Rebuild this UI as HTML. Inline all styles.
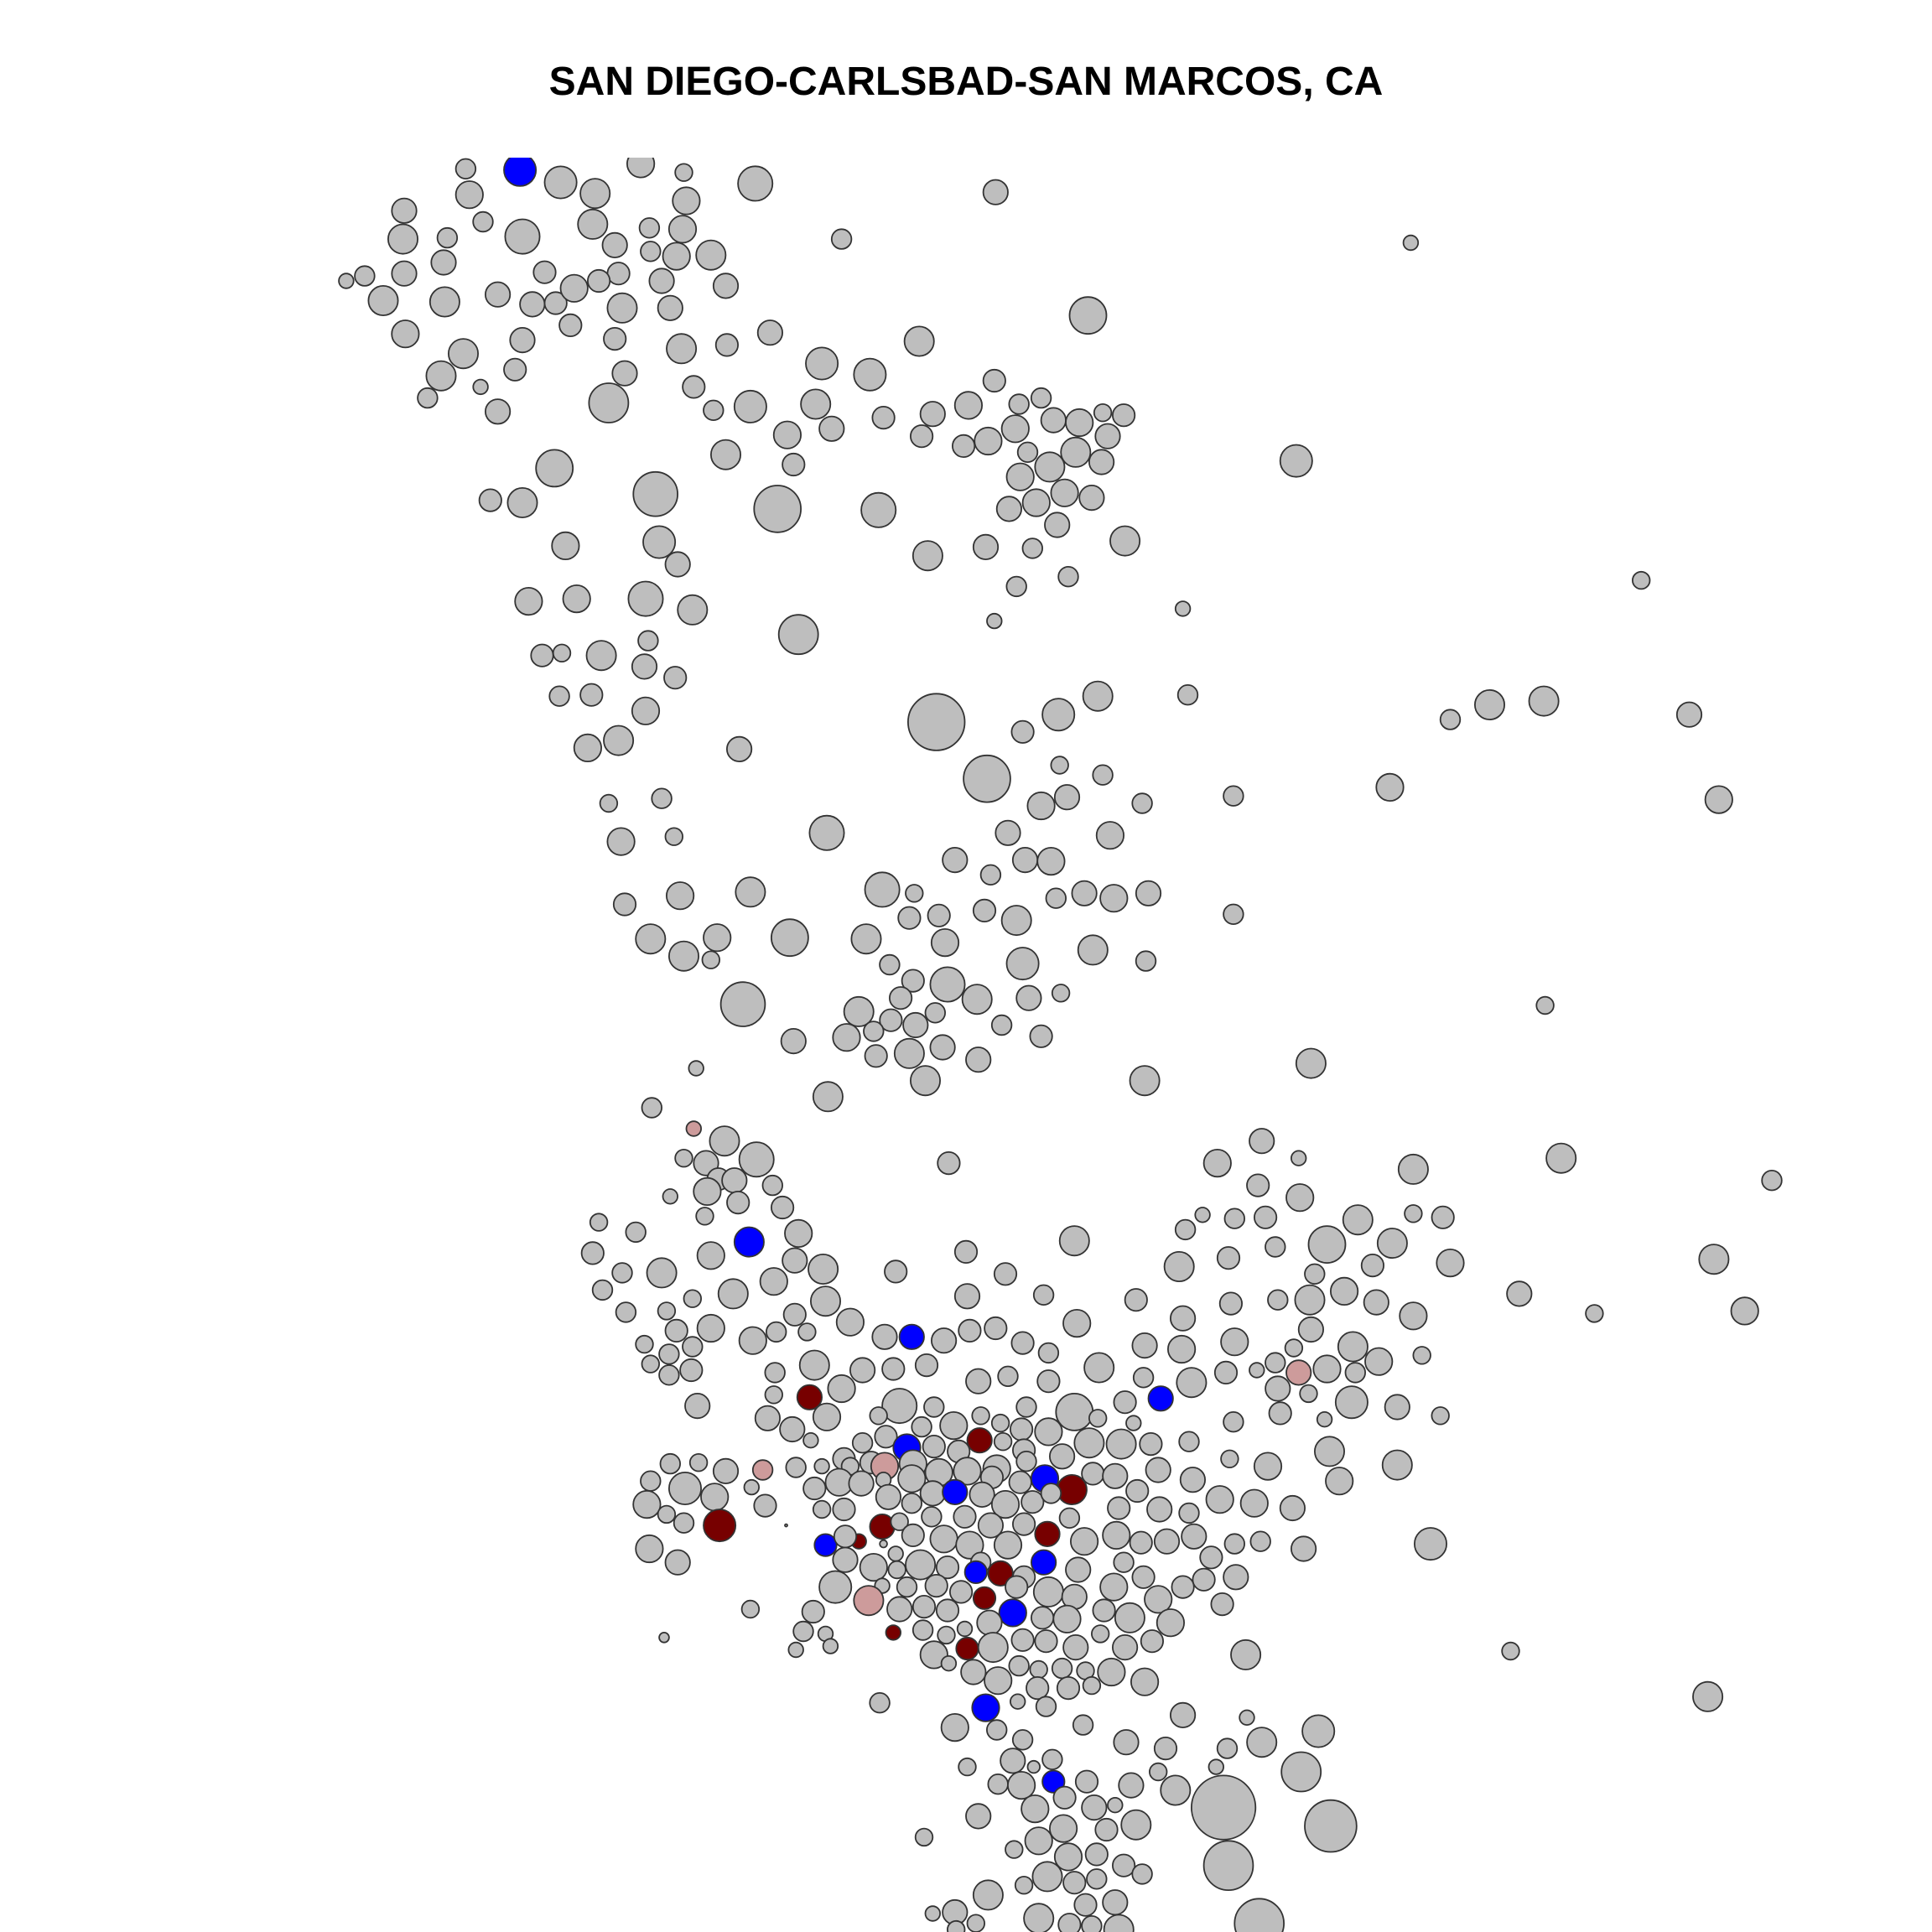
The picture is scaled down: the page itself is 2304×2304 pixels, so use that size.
<!DOCTYPE html>
<html><head><meta charset="utf-8"><style>
html,body{margin:0;padding:0;background:#fff}
svg{display:block}
</style></head><body>
<svg id="chart" width="2304" height="2304" viewBox="0 0 2304 2304" xmlns="http://www.w3.org/2000/svg">
<defs><clipPath id="plotclip"><rect x="0" y="188" width="2304" height="2116"/></clipPath></defs>
<rect width="2304" height="2304" fill="#fff"/>
<text x="1152" y="113" text-anchor="middle" font-family="'Liberation Sans', sans-serif" font-weight="bold" font-size="48" fill="#000">SAN DIEGO-CARLSBAD-SAN MARCOS, CA</text>
<g id="marks" clip-path="url(#plotclip)"></g>
</svg>
<script>
// data: [x, y, size, group]  (g=gray, b=blue, r=dark red, p=pink)
const points = [
[378,137,8],[422,138,13,'b'],[455,148,13],[520,133,11],[555,140,7],[613,149,14],[808,156,10],[381,158,11],[483,157,12],[557,163,11],[328,171,10],[392,180,8],[481,182,12],[527,185,8],[554,186,11],[683,194,8],[1145,197,6],[327,194,12],[363,193,8],[424,192,14],[499,199,10],[528,204,8],[549,208,11],[577,207,12],[360,213,10],[442,221,9],[502,222,9],[281,228,6],[296,224,8],[328,222,10],[486,228,9],[537,228,10],[589,232,10],[311,244,12],[361,245,12],[404,239,10],[432,247,10],[451,246,9],[466,234,11],[505,250,12],[544,250,10],[883,256,15],[329,271,11],[424,276,10],[463,264,9],[499,275,9],[553,283,12],[590,280,9],[625,270,10],[746,277,12],[376,287,12],[418,300,9],[507,303,10],[667,295,13],[706,304,13],[358,305,12],[390,314,6],[494,327,16],[563,314,9],[807,309,9],[347,323,8],[404,334,10],[579,333,8],[609,330,13],[662,328,12],[717,339,9],[757,336,10],[786,329,11],[827,328,8],[845,323,8],[855,341,10],[876,343,11],[895,335,7],[912,337,9],[639,353,11],[675,348,10],[748,354,9],[782,362,9],[802,358,11],[824,348,11],[899,354,10],[589,369,12],[644,377,9],[834,367,8],[873,367,12],[894,375,10],[1052,374,13],[828,387,11],[852,379,12],[450,380,15],[398,406,9],[424,408,12],[532,401,18],[631,413,19],[713,414,14],[819,413,10],[841,408,11],[864,400,11],[886,404,10],[858,426,10],[459,443,11],[535,440,13],[753,451,12],[800,444,10],[838,445,8],[913,439,12],[550,458,10],[825,476,8],[867,468,8],[1332,471,7],[429,488,11],[468,486,11],[524,486,14],[562,495,12],[960,494,6],[807,504,6],[648,515,16],[526,520,8],[440,532,9],[456,530,7],[488,532,12],[523,541,10],[548,550,9],[454,565,8],[480,564,9],[524,577,11],[760,586,23],[859,580,13],[891,565,12],[964,564,8],[830,594,9],[1177,584,8],[1209,572,12],[1253,569,12],[1371,580,10],[477,607,11],[502,601,12],[600,608,10],[801,632,19],[860,621,7],[895,629,8],[1128,639,11],[1001,646,8],[1395,649,11],[494,652,7],[537,648,8],[866,647,10],[845,654,11],[927,652,8],[547,679,7],[671,676,14],[504,683,11],[818,676,10],[901,678,11],[775,698,10],[832,698,10],[853,699,11],[804,710,8],[507,734,9],[552,727,11],[609,724,12],[716,722,14],[742,725,7],[857,729,8],[880,725,10],[904,729,11],[932,725,10],[738,745,9],[762,743,9],[799,739,9],[825,747,12],[1001,742,8],[528,762,12],[582,761,11],[641,761,15],[703,762,12],[767,765,11],[555,776,12],[577,779,7],[887,771,12],[722,783,8],[830,782,13],[930,780,8],[741,796,9],[769,799,14],[603,815,18],[697,821,12],[731,810,9],[793,811,12],[835,810,10],[861,806,7],[1254,816,7],[723,828,9],[743,832,10],[759,822,8],[813,832,8],[644,845,10],[687,842,11],[709,837,8],[738,855,12],[765,850,10],[845,841,9],[711,857,9],[794,860,10],[1064,863,12],[565,867,6],[751,877,12],[929,877,12],[672,890,12],[529,899,8],
[563,916,6,'p'],[588,926,12],[1024,926,10],[614,941,14],[555,940,7],[573,944,10],[770,944,9],[988,944,11],[1054,940,6],[1147,949,12],[1267,940,12],[583,957,9],[596,958,10],[627,962,8],[1021,962,9],[1438,958,8],[574,967,11],[544,971,6],[599,976,9],[635,980,9],[1055,972,11],[572,987,7],[976,986,6],[1002,989,8],[1027,988,9],[1102,990,12],[1147,985,7],[1171,988,9],[486,992,7],[516,1000,8],[648,1001,11],[962,998,8],[608,1008,12,'b'],[872,1007,12],[1077,1010,15],[1130,1009,12],[784,1016,9],[481,1017,9],[577,1019,11],[645,1023,10],[997,1021,9],[1035,1012,8],[1114,1027,9],[1177,1025,11],[1391,1022,12],[505,1033,8],[537,1033,12],[668,1030,12],[727,1032,9],[816,1034,9],[957,1028,12],[1067,1034,8],[628,1040,11],[489,1047,8],[595,1050,12],[785,1052,10],[847,1051,8],[922,1055,9],[1091,1048,11],[1063,1055,12],[1117,1057,10],[1233,1050,10],[1416,1064,11],[562,1054,7],[670,1056,12],[508,1065,8],[541,1064,7],[645,1067,9],[874,1074,11],[960,1070,10],[999,1058,9],[1037,1055,8],[1147,1068,11],[1294,1066,7],[549,1080,9],[577,1078,11],[690,1073,11],[787,1080,9],[808,1078,9],[718,1085,10],[740,1085,10,'b'],[766,1088,10],[523,1091,7],[562,1093,8],[611,1088,11],[630,1081,8],[655,1081,7],[830,1090,9],[929,1092,10],[959,1095,11],[1002,1089,11],[1064,1079,10],[1050,1094,7],[1098,1093,12],[543,1099,8],[528,1107,7],[1154,1100,7],[661,1108,12],[700,1112,10],[725,1111,9],[752,1108,9],[851,1098,8],[543,1116,8],[561,1112,9],[629,1114,8],[794,1121,10],[818,1117,8],[892,1110,12],[928,1118,8],[967,1122,12],[995,1114,9],[1020,1112,6],[1035,1106,8],[1054,1114,10,'p'],[1077,1111,11],[1100,1114,8],[1119,1105,11],[683,1127,11],[851,1121,9],[628,1132,7],[657,1134,10,'r'],[942,1135,10,'b'],[1037,1127,10],[1062,1131,7],[566,1141,10],[730,1141,14],[758,1142,8],[796,1149,7],[833,1142,8],[872,1146,15],[913,1138,9],[1097,1138,13],[1134,1142,10],[623,1151,10],[671,1150,11],[713,1149,7],[774,1157,11],[812,1155,7],[829,1160,9],[851,1162,11],[891,1151,7],[920,1155,6],[1039,1147,9],[1169,1149,7],[1001,1154,8],[643,1160,10],[748,1158,8],[658,1169,6],[700,1171,8],[719,1166,9],[736,1175,11,'b'],[758,1174,9],[795,1169,10,'r'],[814,1170,7],[831,1177,9],[884,1171,12],[910,1172,12],[934,1172,9],[965,1170,8],[1075,1152,6],[1079,1178,12],[685,1184,9],[667,1190,6],[690,1190,7],[707,1187,9],[718,1190,11,'p'],[741,1188,11],[778,1178,9],[809,1192,11],[833,1186,8],[862,1182,10],[940,1193,10],[998,1184,7],[1029,1190,11],[1134,1189,12],[646,1191,8],[544,1188,8],[567,1187,7],[589,1194,10],[619,1193,8,'p'],[528,1202,8],[556,1208,13],[610,1207,6],[661,1208,9],[681,1203,11],[699,1204,10],[717,1201,6],[740,1200,11],[762,1195,11],[785,1194,11],[805,1199,9],[828,1203,9],[848,1200,11,'b'],[870,1209,12,'r'],[887,1196,9],[905,1198,10],[923,1210,9],[968,1201,10],[1087,1202,11],[525,1221,11],[580,1215,11],[621,1222,9],[667,1225,7],[685,1225,9],[721,1215,10],[740,1220,8],[757,1212,10],[775,1211,10,'b'],[797,1213,10],[816,1221,11],[838,1219,9],[853,1212,8],[908,1224,9],[941,1225,10],[965,1228,8],[990,1217,11],[1018,1220,11],[1049,1224,10],[541,1229,7],[555,1236,8],[584,1238,13,'r'],[638,1238,1],[716,1239,10,'r'],[730,1235,7],[756,1231,8],[783,1231,9],[804,1238,10],[831,1237,9],[850,1245,10,'r'],[868,1232,8],[697,1251,6,'r'],[717,1253,3],[670,1254,9,'b'],[686,1247,9],[741,1246,9],[766,1249,11],[787,1254,11],[818,1254,11],[880,1251,11],[906,1246,11],[926,1252,9],[947,1251,10],[969,1247,10],[1002,1253,8],[1023,1251,8],[1058,1257,10],[1161,1253,13],[527,1257,11],[550,1268,10],[686,1266,10],[727,1261,6],[747,1270,12],[769,1272,9],[796,1268,8],[847,1268,10,'b'],[875,1274,10],[709,1272,11],[728,1274,7],[792,1276,9,'b'],[812,1277,10,'r'],[831,1280,9],[912,1268,8],[928,1280,9],[960,1288,9],[977,1282,9],[983,1264,9],[1003,1280,10],[678,1288,13],[716,1287,6],[736,1288,8],[760,1287,9],[780,1292,9],[851,1292,12],[872,1296,10],[904,1288,11],[940,1298,11],[992,1302,9],[705,1299,12,'p'],[799,1297,9,'r'],[825,1288,9],[609,1306,7],[660,1308,9],[730,1306,10],[750,1304,9],[769,1307,9],[822,1309,11,'b'],[846,1313,9],[866,1314,11],[896,1307,9],[917,1313,12],[950,1317,11],[539,1329,4],[652,1324,8],[670,1326,6],[725,1325,6,'r'],[749,1323,8],[768,1327,7],[783,1322,6],[803,1317,10],[830,1331,9],[893,1326,7],[935,1332,9],[646,1339,6],[674,1336,6],[758,1343,11],[785,1338,9,'r'],[806,1337,12],[849,1332,9],[873,1337,10],[913,1337,10],[1011,1343,12],[1226,1340,7],[770,1350,6],[827,1352,8],[843,1355,7],[862,1354,8],[881,1356,7],[902,1357,11],[790,1357,10],[810,1364,11],[929,1365,11],[842,1370,9],[867,1370,9],[886,1368,7],[714,1382,8],[800,1386,11,'b'],[826,1381,6],[849,1385,8],[1386,1377,12],[960,1392,10],[775,1402,11],[809,1404,8],[879,1400,8],[1012,1394,6],[1070,1405,13],[914,1414,10],[946,1419,9],[996,1419,8],[1024,1414,12],[830,1412,8],[822,1429,10],[854,1428,8],[785,1434,7],[839,1434,5],[855,1446,9,'b'],[882,1446,9],[987,1434,6],[1056,1438,16],[810,1448,8],[829,1449,11],[918,1449,10],[954,1453,12],[940,1438,7],[993,1467,26],[1080,1482,21],[794,1474,10],[840,1468,11],[864,1459,9],[888,1467,10],[905,1465,6],[863,1484,11],[898,1485,9],[922,1481,12],[843,1494,11],[823,1501,7],[750,1491,7],[867,1507,11],[890,1505,9],[912,1514,9],[997,1514,20],[802,1538,12],[831,1530,7],[850,1523,12],[872,1528,9],[890,1525,8],[927,1521,8],[843,1557,12],[868,1562,9],[881,1546,9],[905,1544,10],[1022,1561,20],[775,1552,10],[757,1553,6],[792,1561,7],[886,1563,8],[908,1566,12],[776,1566,7]
];
const xs = points.map(p => p[0]);
const ys = points.map(p => p[1]);
const sizes = points.map(p => p[2]);
const groups = points.map(p => p[3] || 'g');
const groupColors = {g:'#bebebe', b:'#0000ff', r:'#770000', p:'#cd9b9b'};
const groupNames = {g:'gray', b:'blue', r:'dark-red', p:'pink'};

const K = 2304 / 1568;
function xScale(v){ return v * K; }
function yScale(v){ return v * K; }
function rScale(v){ return v * K; }

const g = document.getElementById('marks');
const NS = 'http://www.w3.org/2000/svg';
for (let i = 0; i < xs.length; i++) {
  const c = document.createElementNS(NS, 'circle');
  c.setAttribute('cx', xScale(xs[i]).toFixed(1));
  c.setAttribute('cy', yScale(ys[i]).toFixed(1));
  c.setAttribute('r', rScale(sizes[i]).toFixed(1));
  c.setAttribute('fill', groupColors[groups[i]]);
  c.setAttribute('stroke', '#333333');
  c.setAttribute('stroke-width', '1.8');
  
  
  g.appendChild(c);
}
</script>
</body></html>
